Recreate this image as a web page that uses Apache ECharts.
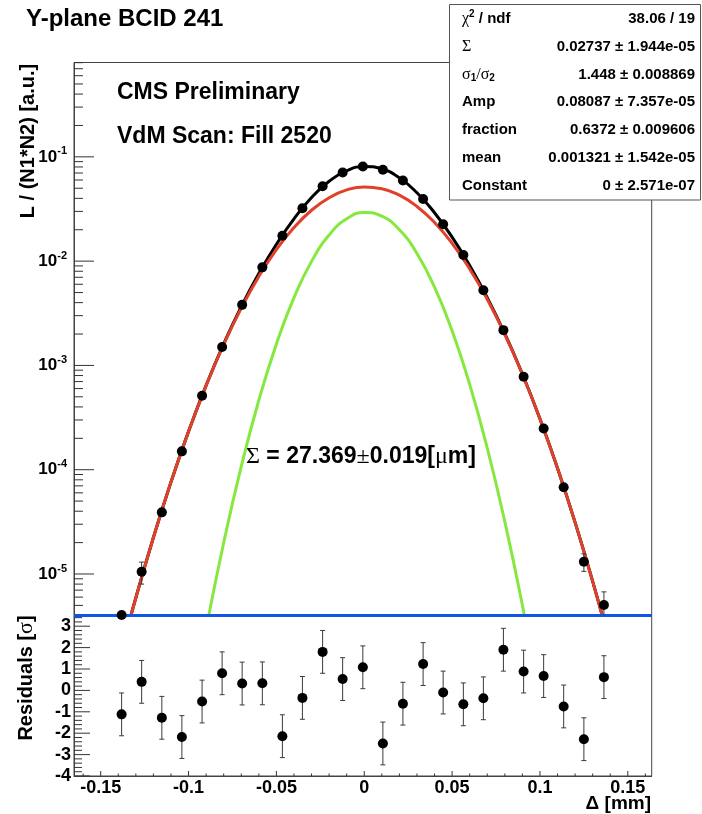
<!DOCTYPE html>
<html>
<head>
<meta charset="utf-8">
<script src="https://cdn.jsdelivr.net/npm/echarts@6/dist/echarts.min.js"></script>
<style>
html, body { margin: 0; padding: 0; background: #fff; }
#chart { width: 702px; height: 814px; }
</style>
</head>
<body>
<div id="chart"></div>
<script>
// scan positions (mm), normalised luminosity and errors
const scanX = [-0.1381, -0.1267, -0.1152, -0.1038, -0.0923, -0.0809, -0.0695, -0.0580, -0.0466, -0.0352,
  -0.0237, -0.0123, -0.0008, 0.0106, 0.0220, 0.0335, 0.0449, 0.0564, 0.0678, 0.0792,
  0.0907, 0.1021, 0.1135, 0.1250, 0.1364];
const lumi = [4.05e-6, 1.05e-5, 3.9e-5, 1.50e-4, 5.12e-4, 1.50e-3, 3.81e-3, 8.72e-3, 1.75e-2, 3.22e-2,
  5.22e-2, 7.08e-2, 8.09e-2, 7.52e-2, 5.93e-2, 3.94e-2, 2.258e-2, 1.145e-2, 5.255e-3, 2.18e-3,
  7.79e-4, 2.48e-4, 6.8e-5, 1.31e-5, 5.04e-6];
const lumiErr = [0, 2.5e-6, 1.8e-6, 2.5e-6, 4e-6, 8e-6, 1.5e-5, 2.5e-5, 4e-5, 6e-5,
  8e-5, 1e-4, 1e-4, 1e-4, 8e-5, 6e-5, 4e-5, 2.5e-5, 1.5e-5, 8e-6,
  4e-6, 2.5e-6, 2.2e-6, 2.5e-6, 1.7e-6];
const residuals = [-1.12, 0.4, -1.28, -2.18, -0.52, 0.8, 0.32, 0.33, -2.14, -0.35,
  1.8, 0.53, 1.08, -2.48, -0.62, 1.23, -0.1, -0.65, -0.37, 1.9,
  0.88, 0.67, -0.75, -2.28, 0.62];
const residualErr = [1, 1, 1, 1, 1, 1, 1, 1, 1, 1, 1, 1, 1, 1, 1, 1, 1, 1, 1, 1, 1, 1, 1, 1, 1];

// fit curves read along the x range
const curveX = [-0.16, -0.15, -0.14, -0.13, -0.12, -0.11, -0.10, -0.09, -0.08, -0.07, -0.06,
  -0.05, -0.04, -0.03, -0.02, -0.01, 0, 0.01, 0.02, 0.03, 0.04, 0.05,
  0.06, 0.07, 0.08, 0.09, 0.10, 0.11, 0.12, 0.13, 0.14, 0.15, 0.16];
const totalFit = [5.85e-8, 3.03e-7, 1.41e-6, 5.92e-6, 2.237e-5, 7.614e-5, 2.331e-4, 6.44e-4, 1.610e-3, 3.655e-3, 7.594e-3,
  1.451e-2, 2.545e-2, 4.071e-2, 5.835e-2, 7.366e-2, 8.077e-2, 7.654e-2, 6.286e-2, 4.528e-2, 2.909e-2, 1.697e-2,
  9.078e-3, 4.472e-3, 2.018e-3, 8.28e-4, 3.080e-4, 1.033e-4, 3.123e-5, 8.50e-6, 2.084e-6, 4.59e-7, 9.12e-8];
const wideGauss = [5.85e-8, 3.03e-7, 1.41e-6, 5.92e-6, 2.237e-5, 7.61e-5, 2.327e-4, 6.41e-4, 1.590e-3, 3.548e-3, 7.13e-3,
  1.290e-2, 2.099e-2, 3.076e-2, 4.057e-2, 4.818e-2, 5.148e-2, 4.954e-2, 4.289e-2, 3.344e-2, 2.346e-2, 1.482e-2,
  8.42e-3, 4.31e-3, 1.986e-3, 8.23e-4, 3.074e-4, 1.033e-4, 3.123e-5, 8.50e-6, 2.084e-6, 4.59e-7, 9.12e-8];
const narrowGauss = [null, null, null, null, null, 3.40e-8, 3.55e-7, 2.972e-6, 1.995e-5, 1.074e-4, 4.639e-4,
  1.606e-3, 4.464e-3, 9.946e-3, 1.778e-2, 2.548e-2, 2.929e-2, 2.700e-2, 1.997e-2, 1.184e-2, 5.634e-3, 2.150e-3,
  6.578e-4, 1.615e-4, 3.180e-5, 5.019e-6, 6.36e-7, 6.46e-8, null, null, null, null, null];

// axes
const X_MIN = -0.1652, X_MAX = 0.1636;
const Y_MIN = 4.0e-6, Y_MAX = 0.803;
const R_MIN = -4, R_MAX = 3.5;
const xMajorTicks = [-0.15, -0.1, -0.05, 0, 0.05, 0.1, 0.15];
const xMinorTicks = [-0.16, -0.14, -0.13, -0.12, -0.11, -0.09, -0.08, -0.07, -0.06, -0.04, -0.03, -0.02, -0.01,
  0.01, 0.02, 0.03, 0.04, 0.06, 0.07, 0.08, 0.09, 0.11, 0.12, 0.13, 0.14, 0.16];
const logMajorTicks = [1e-5, 1e-4, 1e-3, 1e-2, 1e-1];
const logMinorTicks = [5e-6, 6e-6, 7e-6, 8e-6, 9e-6,
  2e-5, 3e-5, 4e-5, 5e-5, 6e-5, 7e-5, 8e-5, 9e-5,
  2e-4, 3e-4, 4e-4, 5e-4, 6e-4, 7e-4, 8e-4, 9e-4,
  2e-3, 3e-3, 4e-3, 5e-3, 6e-3, 7e-3, 8e-3, 9e-3,
  2e-2, 3e-2, 4e-2, 5e-2, 6e-2, 7e-2, 8e-2, 9e-2,
  0.2, 0.3, 0.4, 0.5, 0.6, 0.7, 0.8];
const resMajorTicks = [-4, -3, -2, -1, 0, 1, 2, 3];
const resMinorTicks = [-3.8, -3.6, -3.4, -3.2, -2.8, -2.6, -2.4, -2.2, -1.8, -1.6, -1.4, -1.2,
  -0.8, -0.6, -0.4, -0.2, 0.2, 0.4, 0.6, 0.8, 1.2, 1.4, 1.6, 1.8, 2.2, 2.4, 2.6, 2.8, 3.2, 3.4];

// stats box
const statLabels = ['{g|χ}{sup|2}{t| / ndf}', '{g|Σ}', '{g|σ}{sub|1}{g|/σ}{sub|2}', '{t|Amp}', '{t|fraction}', '{t|mean}', '{t|Constant}'];
const statValues = ['38.06 / 19', '0.02737 ± 1.944e-05', '1.448 ± 0.008869', '0.08087 ± 7.357e-05',
  '0.6372 ± 0.009606', '0.001321 ± 1.542e-05', '0 ± 2.571e-07'];

const FONT = "'Liberation Sans', Arial, Helvetica, sans-serif";
const SERIF = "'Liberation Serif', 'DejaVu Serif', serif";

const pairs = (xs, ys) => xs.map((x, i) => [x, ys[i]]);

function tickItem(dir, len) {
  return function (params, api) {
    const p = api.coord([api.value(0), api.value(1)]);
    const x2 = dir === 'y' ? p[0] + len : p[0];
    const y2 = dir === 'y' ? p[1] : p[1] - len;
    return { type: 'line', shape: { x1: p[0], y1: p[1], x2: x2, y2: y2 }, style: { stroke: '#333', lineWidth: 1 } };
  };
}

function errorBarItem(floor) {
  return function (params, api) {
    const x = api.value(0), y = api.value(1), e = api.value(2);
    if (!e) return;
    const lo = Math.max(y - e, floor);
    const top = api.coord([x, y + e]);
    const bot = api.coord([x, lo]);
    const st = { stroke: '#3a3a3a', lineWidth: 1 };
    const children = [
      { type: 'line', shape: { x1: top[0], y1: top[1], x2: bot[0], y2: bot[1] }, style: st },
      { type: 'line', shape: { x1: top[0] - 2.5, y1: top[1], x2: top[0] + 2.5, y2: top[1] }, style: st }
    ];
    if (lo > floor) children.push({ type: 'line', shape: { x1: bot[0] - 2.5, y1: bot[1], x2: bot[0] + 2.5, y2: bot[1] }, style: st });
    return { type: 'group', children: children };
  };
}

function tickSeries(name, xi, yi, data, dir, len) {
  return {
    name: name, type: 'custom', xAxisIndex: xi, yAxisIndex: yi,
    renderItem: tickItem(dir, len), data: data, encode: { x: 0, y: 1 }, silent: true, z: 5
  };
}

const chart = echarts.init(document.getElementById('chart'), null, { renderer: 'canvas' });

const axisLabelStyle = { color: '#000', fontFamily: FONT, fontWeight: 'bold', fontSize: 18 };
const frameLine = { show: true, onZero: false, lineStyle: { color: '#444', width: 1 } };

chart.setOption({
  animation: false,
  backgroundColor: '#fff',
  grid: [
    { left: 74, top: 62.5, width: 577.7, height: 553, show: true, borderColor: '#444', borderWidth: 1, backgroundColor: 'transparent' },
    { left: 74, top: 615.5, width: 577.7, height: 160.5, show: true, borderColor: '#444', borderWidth: 1, backgroundColor: 'transparent' }
  ],
  xAxis: [
    { type: 'value', gridIndex: 0, min: X_MIN, max: X_MAX, show: false, axisLine: { onZero: false } },
    {
      type: 'value', gridIndex: 1, min: X_MIN, max: X_MAX,
      axisLine: frameLine,
      axisTick: { show: false },
      splitLine: { show: false },
      axisLabel: Object.assign({
        customValues: xMajorTicks, margin: 3,
        formatter: v => (Math.abs(v) < 1e-9 ? '0' : String(+v.toFixed(2)))
      }, axisLabelStyle)
    }
  ],
  yAxis: [
    {
      type: 'log', logBase: 10, gridIndex: 0, min: Y_MIN, max: Y_MAX,
      axisLine: frameLine,
      axisTick: { show: false },
      splitLine: { show: false },
      minorTick: { show: false },
      axisLabel: {
        showMinLabel: false, showMaxLabel: false, margin: 7,
        formatter: v => '{a|10}{e|' + Math.round(Math.log10(v)) + '}',
        rich: {
          a: { fontFamily: FONT, fontWeight: 'bold', fontSize: 17, color: '#000' },
          e: { fontFamily: FONT, fontWeight: 'bold', fontSize: 11, color: '#000', padding: [0, 0, 11, 0] }
        }
      }
    },
    {
      type: 'value', gridIndex: 1, min: R_MIN, max: R_MAX, interval: 1,
      axisLine: frameLine,
      axisTick: { show: false },
      splitLine: { show: false },
      axisLabel: Object.assign({
        showMaxLabel: false, margin: 3,
        formatter: v => (Number.isInteger(v) ? String(v) : '')
      }, axisLabelStyle)
    }
  ],
  series: [
    {
      name: 'total', type: 'line', xAxisIndex: 0, yAxisIndex: 0, data: pairs(curveX, totalFit),
      showSymbol: false, smooth: true, clip: true, lineStyle: { color: '#000', width: 3 }, z: 2
    },
    {
      name: 'wide', type: 'line', xAxisIndex: 0, yAxisIndex: 0, data: pairs(curveX, wideGauss),
      showSymbol: false, smooth: true, clip: true, lineStyle: { color: '#e0412b', width: 3 }, z: 3
    },
    {
      name: 'narrow', type: 'line', xAxisIndex: 0, yAxisIndex: 0, data: pairs(curveX, narrowGauss),
      showSymbol: false, smooth: true, clip: true, connectNulls: false, lineStyle: { color: '#86e83e', width: 3 }, z: 3
    },
    {
      name: 'Constant', type: 'line', xAxisIndex: 0, yAxisIndex: 0, data: [[X_MIN, Y_MIN], [X_MAX, Y_MIN]],
      showSymbol: false, clip: false, lineStyle: { color: '#0f55eb', width: 3 }, z: 4
    },
    {
      name: 'lumiErr', type: 'custom', xAxisIndex: 0, yAxisIndex: 0,
      renderItem: errorBarItem(Y_MIN),
      data: scanX.map((x, i) => [x, lumi[i], lumiErr[i]]), encode: { x: 0, y: 1 }, z: 6
    },
    {
      name: 'data', type: 'scatter', xAxisIndex: 0, yAxisIndex: 0, data: pairs(scanX, lumi),
      symbol: 'circle', symbolSize: 10, itemStyle: { color: '#000', opacity: 1 }, z: 7
    },
    tickSeries('logMajor', 0, 0, logMajorTicks.map(v => [X_MIN, v]), 'y', 20),
    tickSeries('logMinor', 0, 0, logMinorTicks.map(v => [X_MIN, v]), 'y', 9),
    {
      name: 'resErr', type: 'custom', xAxisIndex: 1, yAxisIndex: 1,
      renderItem: errorBarItem(-Infinity),
      data: scanX.map((x, i) => [x, residuals[i], residualErr[i]]), encode: { x: 0, y: 1 }, z: 6
    },
    {
      name: 'residuals', type: 'scatter', xAxisIndex: 1, yAxisIndex: 1, data: pairs(scanX, residuals),
      symbol: 'circle', symbolSize: 10, itemStyle: { color: '#000', opacity: 1 }, z: 7
    },
    tickSeries('resMajor', 1, 1, resMajorTicks.map(v => [X_MIN, v]), 'y', 16),
    tickSeries('resMinor', 1, 1, resMinorTicks.map(v => [X_MIN, v]), 'y', 8),
    tickSeries('xMajor', 1, 1, xMajorTicks.map(v => [v, R_MIN]), 'x', 5),
    tickSeries('xMinor', 1, 1, xMinorTicks.map(v => [v, R_MIN]), 'x', 2.5)
  ],
  graphic: [
    { type: 'text', left: 26, top: 7, style: { text: 'Y-plane BCID 241', fill: '#000', font: 'bold 24px ' + FONT } },
    { type: 'text', x: 117, y: 93, style: { text: 'CMS Preliminary', fill: '#000', font: 'bold 23px ' + FONT, verticalAlign: 'middle', textVerticalAlign: 'middle' } },
    { type: 'text', x: 117, y: 137, style: { text: 'VdM Scan: Fill 2520', fill: '#000', font: 'bold 23px ' + FONT, verticalAlign: 'middle', textVerticalAlign: 'middle' } },
    {
      type: 'text', x: 246, y: 457, z: 20,
      style: {
        text: '{s|Σ}{b| = 27.369}{s|±}{b|0.019[}{s|μ}{b|m]}', verticalAlign: 'middle', textVerticalAlign: 'middle',
        rich: {
          s: { fontFamily: SERIF, fontSize: 24, fill: '#000', color: '#000' },
          b: { fontFamily: FONT, fontWeight: 'bold', fontSize: 23, fill: '#000', color: '#000' }
        }
      }
    },
    {
      type: 'text', x: 28, y: 141, rotation: Math.PI / 2,
      style: { text: 'L / (N1*N2) [a.u.]', fill: '#000', font: 'bold 20px ' + FONT, align: 'center', textAlign: 'center', verticalAlign: 'middle', textVerticalAlign: 'middle' }
    },
    {
      type: 'text', x: 26, y: 678, rotation: Math.PI / 2,
      style: {
        text: '{b|Residuals [}{s|σ}{b|]}', align: 'center', textAlign: 'center', verticalAlign: 'middle', textVerticalAlign: 'middle',
        rich: {
          b: { fontFamily: FONT, fontWeight: 'bold', fontSize: 20, fill: '#000', color: '#000' },
          s: { fontFamily: SERIF, fontSize: 22, fill: '#000', color: '#000' }
        }
      }
    },
    {
      type: 'text', x: 651, y: 804,
      style: { text: 'Δ [mm]', fill: '#000', font: 'bold 19px ' + FONT, align: 'right', textAlign: 'right', verticalAlign: 'middle', textVerticalAlign: 'middle' }
    },
    {
      type: 'group', z: 30,
      children: [
        { type: 'rect', shape: { x: 449.5, y: 4.5, width: 251, height: 195.5 }, style: { fill: '#fff', stroke: '#555', lineWidth: 1 } }
      ].concat(statLabels.map((lab, i) => ({
        type: 'text', x: 462, y: 18.6 + i * 27.9,
        style: {
          text: lab, verticalAlign: 'middle', textVerticalAlign: 'middle',
          rich: {
            t: { fontFamily: FONT, fontWeight: 'bold', fontSize: 15, fill: '#000', color: '#000' },
            g: { fontFamily: SERIF, fontSize: 16, fill: '#000', color: '#000' },
            sup: { fontFamily: FONT, fontWeight: 'bold', fontSize: 10, fill: '#000', color: '#000', padding: [0, 0, 8, 0] },
            sub: { fontFamily: FONT, fontWeight: 'bold', fontSize: 10, fill: '#000', color: '#000', padding: [8, 0, 0, 0] }
          }
        }
      }))).concat(statValues.map((val, i) => ({
        type: 'text', x: 695, y: 18.6 + i * 27.9,
        style: { text: val, fill: '#000', font: 'bold 15px ' + FONT, align: 'right', textAlign: 'right', verticalAlign: 'middle', textVerticalAlign: 'middle' }
      })))
    }
  ]
});
</script>
</body>
</html>
